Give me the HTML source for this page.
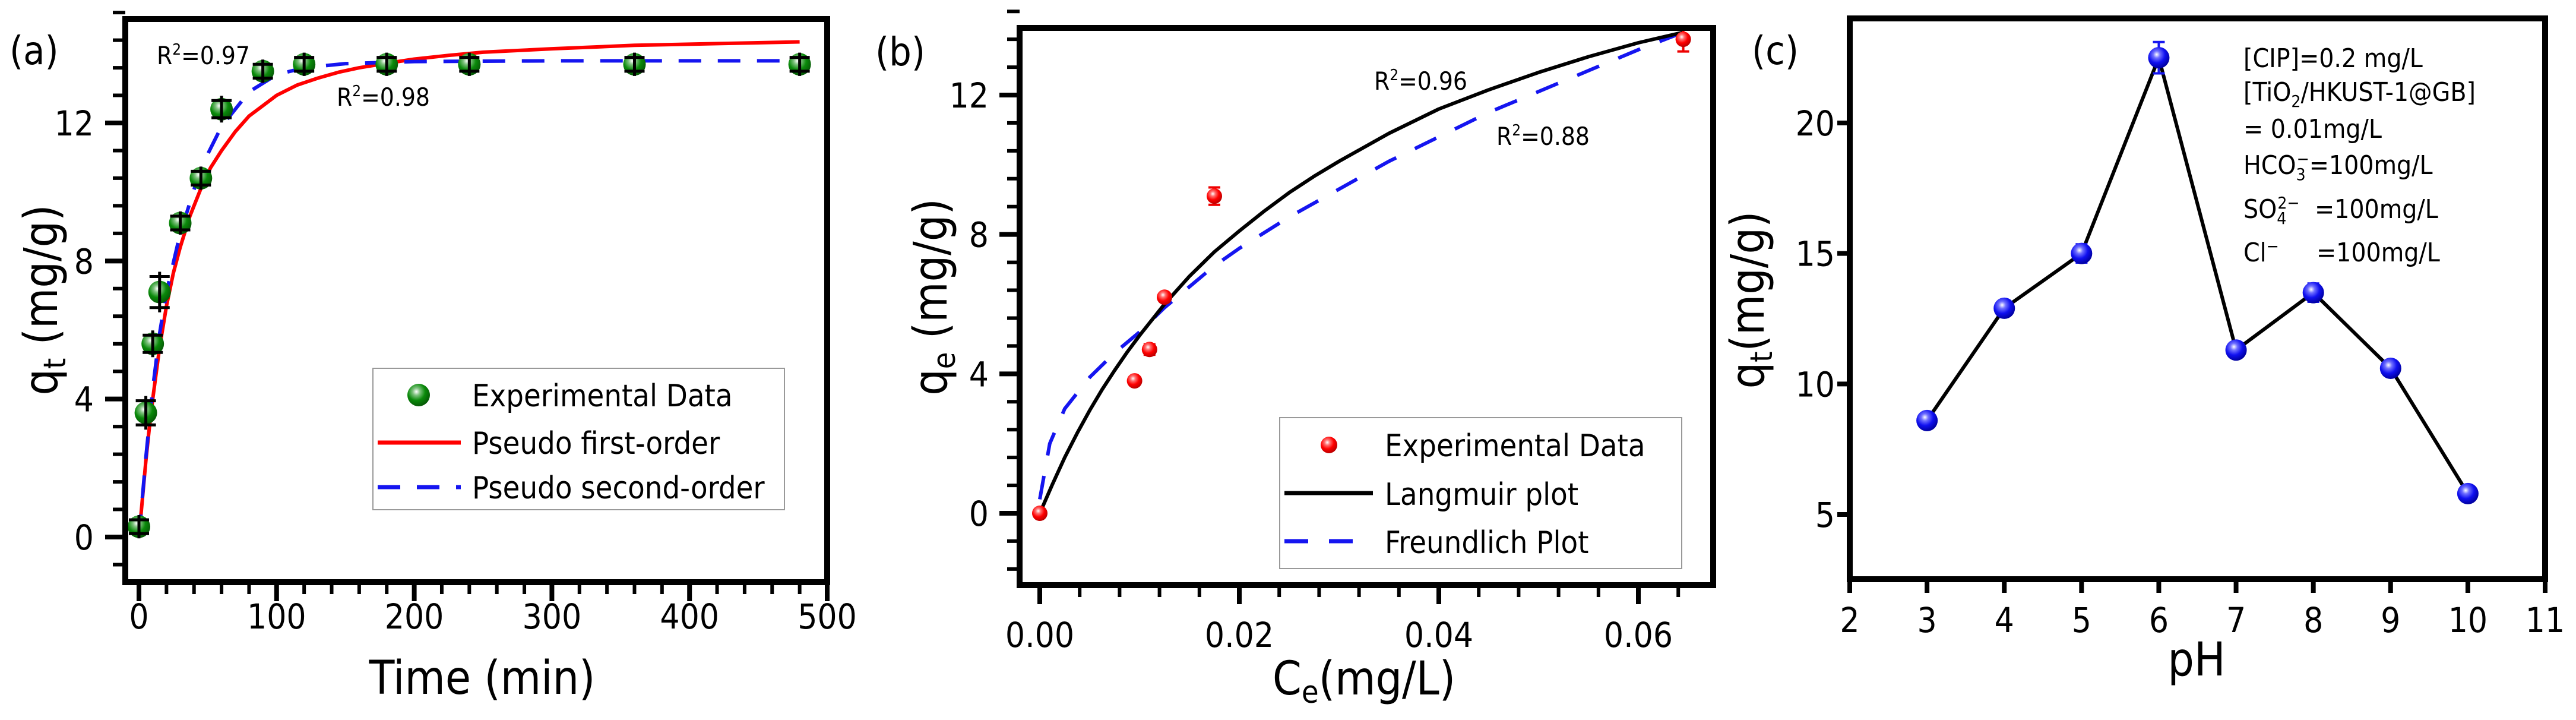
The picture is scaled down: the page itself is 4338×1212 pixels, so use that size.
<!DOCTYPE html>
<html><head><meta charset="utf-8">
<style>
html,body{margin:0;padding:0;background:#fff;}
svg{display:block;}
text{font-family:"DejaVu Sans Condensed","DejaVu Sans","Liberation Sans",sans-serif;fill:#000;}
</style></head>
<body>
<svg id="fig" xmlns="http://www.w3.org/2000/svg" width="4338" height="1212" viewBox="0 0 4338 1212">
<defs>
<radialGradient id="gGreen" cx="0.4" cy="0.35" r="0.65"><stop offset="0" stop-color="#fff"/><stop offset="0.25" stop-color="#7ec27e"/><stop offset="0.6" stop-color="#0a8a0a"/><stop offset="1" stop-color="#065a06"/></radialGradient>
<radialGradient id="gRed" cx="0.4" cy="0.35" r="0.65"><stop offset="0" stop-color="#fff"/><stop offset="0.25" stop-color="#ff7070"/><stop offset="0.6" stop-color="#f00"/><stop offset="1" stop-color="#b00"/></radialGradient>
<radialGradient id="gBlue" cx="0.4" cy="0.35" r="0.65"><stop offset="0" stop-color="#fff"/><stop offset="0.25" stop-color="#7070ff"/><stop offset="0.6" stop-color="#1010f0"/><stop offset="1" stop-color="#0000a0"/></radialGradient>
</defs>
</svg>
<script>
// ---------- Panel (a) data ----------
const aTime = [0,5,10,15,30,45,60,90,120,180,240,360,480];
const aQt = [0.3,3.6,5.6,7.1,9.1,10.4,12.4,13.5,13.7,13.7,13.7,13.7,13.7];
const aErr = [0.2,0.35,0.25,0.45,0.2,0.2,0.25,0.2,0.2,0.2,0.2,0.2,0.2];
const aPfoT = [0,2.5,5,7.5,10,15,20,25,30,37,45,52,60,70,80,90,100,115,130,145,160,180,200,225,250,275,300,330,360,420,480];
const aPfoQ = [0,1.1,2.2,3.15,4.0,5.5,6.7,7.65,8.4,9.3,10.1,10.7,11.2,11.75,12.2,12.5,12.8,13.1,13.3,13.47,13.6,13.73,13.85,13.96,14.05,14.1,14.15,14.2,14.25,14.3,14.35];
const aPsoT = [0,5,10,15,20,30,45,60,80,100,120,150,200,300,480];
const aPsoQ = [0,2.3,4.3,5.9,7.1,8.8,10.7,11.9,12.9,13.4,13.6,13.72,13.78,13.8,13.8];
const aXTicks = [0,100,200,300,400,500];
const aYTicks = [0,4,8,12];
// ---------- Panel (b) data ----------
const bCe = [0,0.0095,0.011,0.0125,0.0175,0.0645];
const bQe = [0,3.8,4.7,6.2,9.1,13.6];
const bErr = [0.05,0.1,0.15,0.1,0.25,0.35];
const bLangX = [0,0.00125,0.0025,0.00375,0.005,0.00625,0.0075,0.00875,0.01,0.0125,0.015,0.0175,0.02,0.0225,0.025,0.0275,0.03,0.035,0.04,0.045,0.05,0.055,0.06,0.0645];
const bLangY = [0,0.82,1.6,2.3,2.95,3.55,4.1,4.62,5.1,6.0,6.8,7.5,8.1,8.67,9.2,9.67,10.1,10.9,11.6,12.15,12.65,13.1,13.5,13.8];
const bFreX = [0,0.001,0.0025,0.005,0.0075,0.01,0.0125,0.015,0.0175,0.02,0.025,0.03,0.035,0.04,0.045,0.05,0.055,0.06,0.0645];
const bFreY = [0.4,2.0,3.0,3.9,4.6,5.2,5.9,6.5,7.1,7.6,8.5,9.3,10.1,10.8,11.5,12.1,12.7,13.3,13.8];
const bXTicks = [0,0.02,0.04,0.06];
const bXTickLabels = ["0.00","0.02","0.04","0.06"];
const bYTicks = [0,4,8,12];
// ---------- Panel (c) data ----------
const cPH = [3,4,5,6,7,8,9,10];
const cQt = [8.6,12.9,15.0,22.5,11.3,13.5,10.6,5.8];
const cErr = [0.1,0.15,0.35,0.6,0.15,0.35,0.15,0.15];
const cXTicks = [2,3,4,5,6,7,8,9,10,11];
const cYTicks = [5,10,15,20];

const NS = "http://www.w3.org/2000/svg";
const svg = document.getElementById('fig');
function mk(tag, attrs, parent){
  const e = document.createElementNS(NS, tag);
  for (const k in attrs) e.setAttribute(k, attrs[k]);
  (parent||svg).appendChild(e);
  return e;
}
function lin(d0,d1,r0,r1){ return v => r0 + (v-d0)*(r1-r0)/(d1-d0); }
function pathFrom(xs, ys, sx, sy){
  return xs.map((v,i)=>(i?'L':'M')+sx(v).toFixed(1)+','+sy(ys[i]).toFixed(1)).join(' ');
}

// ================= PANEL A =================
const ax = lin(0,500,234,1393), ay = lin(0,12,904,207);
const gA = mk('g',{});


for (let v=0; v<=500; v+=20){
  const major = v%100===0;
  const t = mk('line',{x1:ax(v),x2:ax(v),y1:980,y2:major?1012:1000,stroke:'#000','stroke-width':major?8:6},gA);
  
  
}
for (let v=-0.8; v<=15.3; v+=0.8){
  const major = Math.abs(v/4-Math.round(v/4))<1e-6;
  const t = mk('line',{x1:211,x2:major?177:190,y1:ay(v),y2:ay(v),stroke:'#000','stroke-width':major?8:6},gA);
  
  
}
aXTicks.forEach(v=>{
  const t = mk('text',{x:ax(v),y:1058,'font-size':58,'text-anchor':'middle'},gA); t.textContent=String(v);
  
  
});
aYTicks.forEach(v=>{
  const t = mk('text',{x:158,y:ay(v)+21,'font-size':58,'text-anchor':'end'},gA); t.textContent=String(v);
  
  
});
const aRed = mk('path',{d:pathFrom(aPfoT,aPfoQ,ax,ay),fill:'none',stroke:'#f00','stroke-width':6,'stroke-linejoin':'round'},gA);


const aBlue = mk('path',{d:pathFrom(aPsoT,aPsoQ,ax,ay),fill:'none',stroke:'#1515f0','stroke-width':6,'stroke-dasharray':'38 28'},gA);


aTime.forEach((t,i)=>{
  const cx=ax(t), cy=ay(aQt[i]);
  const c = mk('circle',{cx:cx,cy:cy,r:19,fill:'url(#gGreen)'},gA);
  
  
  const e1=ay(aQt[i]+aErr[i]), e2=ay(aQt[i]-aErr[i]);
  const eb = mk('path',{d:`M${cx},${e1-8}L${cx},${e2+8}M${cx-17},${e1}L${cx+17},${e1}M${cx-17},${e2}L${cx+17},${e2}`,stroke:'#000','stroke-width':5,fill:'none'},gA);
  
  
});
const fA = mk('rect',{x:211,y:32,width:1182,height:948,fill:'none',stroke:'#000','stroke-width':10},gA);


</script>

<script>
(function(){
const svg=document.getElementById('fig');
svg.insertAdjacentHTML('beforeend', `
<text x="16" y="108" font-size="66">(a)</text>
<text x="264" y="108" font-size="42">R<tspan font-size="26" dy="-16">2</tspan><tspan dy="16">=0.97</tspan></text>
<text x="567" y="178" font-size="42">R<tspan font-size="26" dy="-16">2</tspan><tspan dy="16">=0.98</tspan></text>
<text x="812" y="1168" font-size="78" text-anchor="middle">Time (min)</text>
<text transform="translate(96,505) rotate(-90)" font-size="78" text-anchor="middle">q<tspan font-size="52" dy="14">t</tspan><tspan dy="-14"> (mg/g)</tspan></text>
<g>
<rect x="628" y="620" width="693" height="238" fill="#fff" stroke="#999" stroke-width="2"/>
<circle cx="705" cy="665" r="19" fill="url(#gGreen)"/>
<text x="795" y="684" font-size="52">Experimental Data</text>
<line x1="636" y1="745" x2="776" y2="745" stroke="#f00" stroke-width="7"/>
<text x="795" y="764" font-size="52">Pseudo first-order</text>
<line x1="636" y1="820" x2="776" y2="820" stroke="#1515f0" stroke-width="7" stroke-dasharray="38 28"/>
<text x="795" y="839" font-size="52">Pseudo second-order</text>
</g>
<text x="1474" y="110" font-size="66">(b)</text>
<text x="2314" y="151" font-size="42">R<tspan font-size="26" dy="-16">2</tspan><tspan dy="16">=0.96</tspan></text>
<text x="2520" y="244" font-size="42">R<tspan font-size="26" dy="-16">2</tspan><tspan dy="16">=0.88</tspan></text>
<text x="2297" y="1169" font-size="78" text-anchor="middle">C<tspan font-size="52" dy="14">e</tspan><tspan dy="-14">(mg/L)</tspan></text>
<text transform="translate(1594,500) rotate(-90)" font-size="78" text-anchor="middle">q<tspan font-size="52" dy="14">e</tspan><tspan dy="-14"> (mg/g)</tspan></text>
<g>
<rect x="2155" y="703" width="677" height="254" fill="#fff" stroke="#999" stroke-width="2"/>
<circle cx="2238" cy="749" r="14" fill="url(#gRed)"/>
<text x="2332" y="768" font-size="52">Experimental Data</text>
<line x1="2163" y1="830" x2="2312" y2="830" stroke="#000" stroke-width="7"/>
<text x="2332" y="850" font-size="52">Langmuir plot</text>
<line x1="2163" y1="911" x2="2312" y2="911" stroke="#1515f0" stroke-width="7" stroke-dasharray="40 35"/>
<text x="2332" y="931" font-size="52">Freundlich Plot</text>
</g>
<text x="2950" y="108" font-size="66">(c)</text>
<text x="3699" y="1137" font-size="78" text-anchor="middle">pH</text>
<text transform="translate(2970,505) rotate(-90)" font-size="78" text-anchor="middle">q<tspan font-size="52" dy="14">t</tspan><tspan dy="-14">(mg/g)</tspan></text>
<g font-size="44">
<text x="3778" y="113">[CIP]=0.2 mg/L</text>
<text x="3778" y="170">[TiO<tspan font-size="28" dy="10">2</tspan><tspan dy="-10">/HKUST-1@GB]</tspan></text>
<text x="3778" y="232">= 0.01mg/L</text>
<text x="3778" y="293">HCO<tspan font-size="28" dy="10">3</tspan><tspan font-size="28" dx="-15" dy="-26">−</tspan><tspan dy="16">=100mg/L</tspan></text>
<text x="3778" y="367">SO<tspan font-size="28" dy="10">4</tspan><tspan font-size="28" dx="-15" dy="-26">2−</tspan><tspan dy="16" x="3898">=100mg/L</tspan></text>
<text x="3778" y="440">Cl<tspan font-size="28" dy="-16">−</tspan><tspan dy="16" x="3901">=100mg/L</tspan></text>
</g>`);
})();
</script>

<script>
(function(){
const NS="http://www.w3.org/2000/svg", svg=document.getElementById('fig');
function mk(tag, attrs, parent){const e=document.createElementNS(NS,tag);for(const k in attrs)e.setAttribute(k,attrs[k]);(parent||svg).appendChild(e);return e;}
function lin(d0,d1,r0,r1){return v=>r0+(v-d0)*(r1-r0)/(d1-d0);}
function pathFrom(xs,ys,sx,sy){return xs.map((v,i)=>(i?'L':'M')+sx(v).toFixed(1)+','+sy(ys[i]).toFixed(1)).join(' ');}
// ================= PANEL B =================
const bx = lin(0,0.06,1751,2759), by = lin(0,12,864,160);
const g = mk('g',{});


for (let i=0;i<=16;i++){
  const v=i*0.004; const major = i%5===0;
  const t=mk('line',{x1:bx(v),x2:bx(v),y1:985,y2:major?1017:1005,stroke:'#000','stroke-width':major?8:6},g);
  
  
}
for (let i=-2;i<=19;i++){
  const v=i*0.8; const major=i%5===0;
  const t=mk('line',{x1:1717,x2:major?1683:1696,y1:by(v),y2:by(v),stroke:'#000','stroke-width':major?8:6},g);
  
  
}
bXTicks.forEach((v,i)=>{
  const t=mk('text',{x:bx(v),y:1089,'font-size':58,'text-anchor':'middle'},g); t.textContent=bXTickLabels[i];
  
  
});
bYTicks.forEach(v=>{
  const t=mk('text',{x:1665,y:by(v)+21,'font-size':58,'text-anchor':'end'},g); t.textContent=String(v);
  
  
});
const fr=mk('path',{d:pathFrom(bFreX,bFreY,bx,by),fill:'none',stroke:'#1515f0','stroke-width':6,'stroke-dasharray':'40 35'},g);


const la=mk('path',{d:pathFrom(bLangX,bLangY,bx,by),fill:'none',stroke:'#000','stroke-width':6,'stroke-linejoin':'round'},g);


bCe.forEach((c,i)=>{
  const cx=bx(c), cy=by(bQe[i]);
  const e1=by(bQe[i]+bErr[i]), e2=by(bQe[i]-bErr[i]);
  const eb=mk('path',{d:`M${cx},${e1}L${cx},${e2}M${cx-10},${e1}L${cx+10},${e1}M${cx-10},${e2}L${cx+10},${e2}`,stroke:'#e00','stroke-width':4,fill:'none'},g);
  
  
  const p=mk('circle',{cx:cx,cy:cy,r:13,fill:'url(#gRed)'},g);
  
  
});
const f=mk('rect',{x:1717,y:47,width:1168,height:938,fill:'none',stroke:'#000','stroke-width':10},g);



// ================= PANEL C =================
const cx_ = lin(2,11,3115,4286), cy_ = lin(5,20,866,207);
const gc = mk('g',{});


cXTicks.forEach(v=>{
  const t=mk('line',{x1:cx_(v),x2:cx_(v),y1:975,y2:998,stroke:'#000','stroke-width':8},gc);
  
  
  const l=mk('text',{x:cx_(v),y:1064,'font-size':58,'text-anchor':'middle'},gc); l.textContent=String(v);
  
  
});
cYTicks.forEach(v=>{
  const t=mk('line',{x1:3113,x2:3094,y1:cy_(v),y2:cy_(v),stroke:'#000','stroke-width':8},gc);
  
  
  const l=mk('text',{x:3090,y:cy_(v)+21,'font-size':58,'text-anchor':'end'},gc); l.textContent=String(v);
  
  
});
const ln=mk('path',{d:pathFrom(cPH,cQt,cx_,cy_),fill:'none',stroke:'#000','stroke-width':6,'stroke-linejoin':'miter'},gc);


cPH.forEach((p,i)=>{
  const x=cx_(p), y=cy_(cQt[i]);
  const e1=cy_(cQt[i]+cErr[i]), e2=cy_(cQt[i]-cErr[i]);
  const eb=mk('path',{d:`M${x},${e1}L${x},${e2}M${x-10},${e1}L${x+10},${e1}M${x-10},${e2}L${x+10},${e2}`,stroke:'#1515f0','stroke-width':4,fill:'none'},gc);
  
  
  const c=mk('circle',{cx:x,cy:y,r:18,fill:'url(#gBlue)'},gc);
  
  
});
const fc=mk('rect',{x:3115,y:31,width:1171,height:944,fill:'none',stroke:'#000','stroke-width':10},gc);


})();
</script>
</body></html>
